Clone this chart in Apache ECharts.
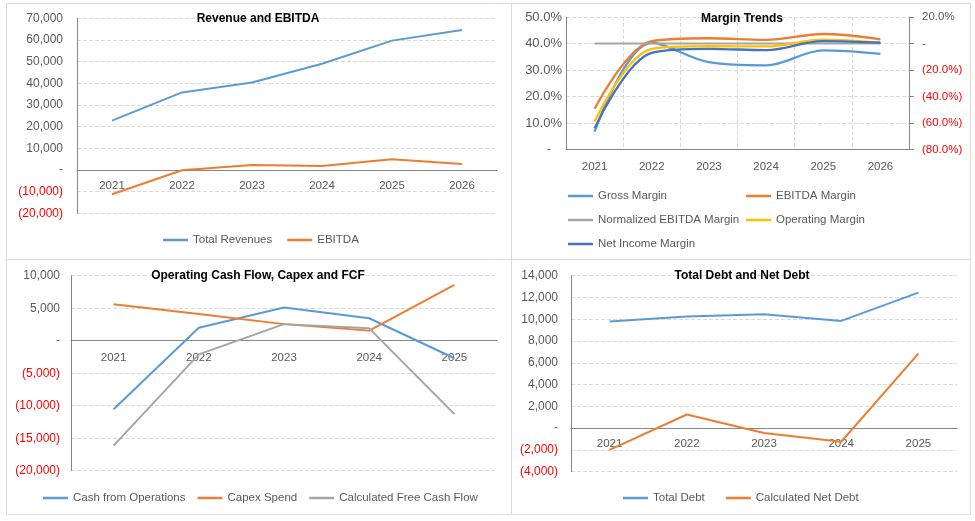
<!DOCTYPE html>
<html>
<head>
<meta charset="utf-8">
<title>Financial summary charts</title>
<script src="https://cdn.jsdelivr.net/npm/echarts@6/dist/echarts.min.js"></script>
<style>
  html, body { margin: 0; padding: 0; background: #fff; }
  #main { width: 975px; height: 521px; }
</style>
</head>
<body>
<div id="main"></div>
<script>
// categories
const years6 = ['2021', '2022', '2023', '2024', '2025', '2026'];
const years5 = ['2021', '2022', '2023', '2024', '2025'];

// Revenue and EBITDA
const totalRevenues = [22800, 35800, 40400, 49000, 59700, 64600];
const ebitda = [-11200, -100, 2300, 1850, 4900, 2750];

// Margin Trends (percent)
const grossMargin = [6.8, 40.3, 33.0, 31.8, 37.4, 36.1];
const ebitdaMargin = [15.4, 40.9, 42.0, 41.4, 43.6, 41.6];
const normalizedEbitdaMargin = [0, 0, 0, 0, 0, 0]; // plotted on the right axis
const operatingMargin = [10.6, 38.0, 39.0, 38.9, 41.5, 40.3];
const netIncomeMargin = [8.1, 36.5, 38.0, 37.5, 40.9, 40.3];

// Operating Cash Flow, Capex and FCF
const cashFromOps = [-10550, 2000, 5100, 3450, -2700];
const capexSpend = [5600, 4100, 2550, 1550, 8600];
const freeCashFlow = [-16150, -2100, 2550, 1900, -11300];

// Total Debt and Net Debt
const totalDebt = [9800, 10250, 10450, 9850, 12450];
const netDebt = [-2000, 1250, -450, -1250, 6850];

const FONT = '"Liberation Sans", Arial, sans-serif';
const TXT = '#595959';
const NEG = '#FF0000';
const AXIS = '#868686';
const GRIDLINE = '#d9d9d9';
const BLUE = '#5B9BD5', ORANGE = '#ED7D31', GRAY = '#A5A5A5', GOLD = '#FFC000', NAVY = '#4472C4';

function numLabel(v) {
    v = Number(v);
    if (v === 0) return '-';
    const s = Math.abs(v).toLocaleString('en-US');
    return v < 0 ? '(' + s + ')' : s;
}
function pctLabel(v) {
    v = Number(v);
    if (v === 0) return '-';
    const s = Math.abs(v).toFixed(1) + '%';
    return v < 0 ? '(' + s + ')' : s;
}
function pctLabelPadded(v) {
    return Number(v) === 0 ? '-\u00a0\u00a0\u00a0' : pctLabel(v);
}
function labelColor(v) {
    return Number(v) < 0 ? NEG : TXT;
}

// category axis drawn on the zero line: shift it up from the grid bottom
function catAxis(gridIndex, data, margin, zeroShift, extra) {
    return Object.assign({
        type: 'category',
        gridIndex: gridIndex,
        data: data,
        boundaryGap: true,
        offset: -zeroShift,
        axisLine: { onZero: false, lineStyle: { color: AXIS, width: 1 } },
        axisTick: { show: false },
        axisLabel: { color: TXT, fontSize: 11.5, fontFamily: FONT, margin: margin },
        splitLine: { show: false }
    }, extra || {});
}

function valAxis(gridIndex, min, max, interval, fmt, margin, fontSize, extra) {
    return Object.assign({
        type: 'value',
        gridIndex: gridIndex,
        min: min,
        max: max,
        interval: interval,
        axisLine: { show: true, lineStyle: { color: AXIS, width: 1 } },
        axisTick: { show: false },
        axisLabel: { formatter: fmt, color: labelColor, fontSize: fontSize, fontFamily: FONT, margin: margin },
        splitLine: { show: true, lineStyle: { color: GRIDLINE, type: 'dashed' } }
    }, extra || {});
}

function line(name, x, y, data, color, smooth) {
    return {
        name: name,
        type: 'line',
        xAxisIndex: x,
        yAxisIndex: y,
        data: data,
        color: color,
        smooth: smooth ? 0.35 : false,
        symbol: 'none',
        lineStyle: { color: color, width: smooth ? 2.3 : 2 },
        emphasis: { disabled: true }
    };
}

function title(text, x, y) {
    return {
        text: text,
        left: x,
        top: y,
        textAlign: 'center',
        padding: 0,
        textStyle: { fontFamily: FONT, fontSize: 12, fontWeight: 'bold', color: '#000' }
    };
}

function legend(names, x, y, gap, orient) {
    return {
        data: names,
        left: x,
        top: y,
        orient: orient || 'horizontal',
        padding: 0,
        itemGap: gap,
        icon: 'rect',
        itemWidth: 25,
        itemHeight: 2.5,
        selectedMode: false,
        textStyle: { fontFamily: FONT, fontSize: 11.5, color: TXT }
    };
}

// grids: [left, top, width, height]
const g1 = [77, 18.3, 420, 195];
const g2 = [566, 17, 343, 132.7];
const g3 = [71, 275.7, 426, 195];
const g4 = [571, 275.7, 386, 196];

function gridOf(g) {
    return { left: g[0], top: g[1], width: g[2], height: g[3] };
}
// distance from the grid bottom up to the value 0
function zeroShift(g, min, max) {
    return g[3] * (0 - min) / (max - min);
}

const chart = echarts.init(document.getElementById('main'));

const option = {
    backgroundColor: '#fff',
    animation: false,
    graphic: [
        { type: 'rect', shape: { x: 6.5, y: 3.5, width: 964, height: 511 }, style: { fill: 'none', stroke: '#dcdcdc', lineWidth: 1 } },
        { type: 'line', shape: { x1: 511.5, y1: 3.5, x2: 511.5, y2: 514.5 }, style: { stroke: '#dcdcdc', lineWidth: 1 } },
        { type: 'line', shape: { x1: 6.5, y1: 259.5, x2: 970.5, y2: 259.5 }, style: { stroke: '#dcdcdc', lineWidth: 1 } }
    ],
    title: [
        title('Revenue and EBITDA', 258, 13),
        title('Margin Trends', 742, 13),
        title('Operating Cash Flow, Capex and FCF', 258, 270),
        title('Total Debt and Net Debt', 742, 270)
    ],
    legend: [
        legend(['Total Revenues', 'EBITDA'], 163, 234, 15),
        legend(['Gross Margin', 'Normalized EBITDA Margin', 'Net Income Margin'], 568, 190, 12, 'vertical'),
        legend(['EBITDA Margin', 'Operating Margin'], 746, 190, 12, 'vertical'),
        legend(['Cash from Operations', 'Capex Spend', 'Calculated Free Cash Flow'], 43, 492, 12),
        legend(['Total Debt', 'Calculated Net Debt'], 623, 492, 21)
    ],
    grid: [gridOf(g1), gridOf(g2), gridOf(g3), gridOf(g4)],
    xAxis: [
        catAxis(0, years6, 10, zeroShift(g1, -20000, 70000)),
        catAxis(1, years6, 11, 0, {
            splitLine: { show: true, lineStyle: { color: GRIDLINE, type: 'dashed' } }
        }),
        catAxis(2, years5, 11, zeroShift(g3, -20000, 10000)),
        catAxis(3, years5, 10, zeroShift(g4, -4000, 14000))
    ],
    yAxis: [
        valAxis(0, -20000, 70000, 10000, numLabel, 14, 12),
        valAxis(1, 0, 50, 10, pctLabelPadded, 4, 13, { position: 'left' }),
        valAxis(1, -80, 20, 20, pctLabel, 13, 11.5, {
            position: 'right',
            axisTick: { show: true, length: 5, lineStyle: { color: AXIS } },
            splitLine: { show: false }
        }),
        valAxis(2, -20000, 10000, 5000, numLabel, 11, 12),
        valAxis(3, -4000, 14000, 2000, numLabel, 13, 12)
    ],
    series: [
        line('Total Revenues', 0, 0, totalRevenues, BLUE),
        line('EBITDA', 0, 0, ebitda, ORANGE),

        line('Gross Margin', 1, 1, grossMargin, BLUE, true),
        line('EBITDA Margin', 1, 1, ebitdaMargin, ORANGE, true),
        line('Normalized EBITDA Margin', 1, 2, normalizedEbitdaMargin, GRAY),
        line('Operating Margin', 1, 1, operatingMargin, GOLD, true),
        line('Net Income Margin', 1, 1, netIncomeMargin, NAVY, true),

        line('Cash from Operations', 2, 3, cashFromOps, BLUE),
        line('Capex Spend', 2, 3, capexSpend, ORANGE),
        line('Calculated Free Cash Flow', 2, 3, freeCashFlow, GRAY),

        line('Total Debt', 3, 4, totalDebt, BLUE),
        line('Calculated Net Debt', 3, 4, netDebt, ORANGE)
    ]
};

chart.setOption(option);

window.addEventListener('resize', () => {
    chart.resize();
});
</script>
</body>
</html>
